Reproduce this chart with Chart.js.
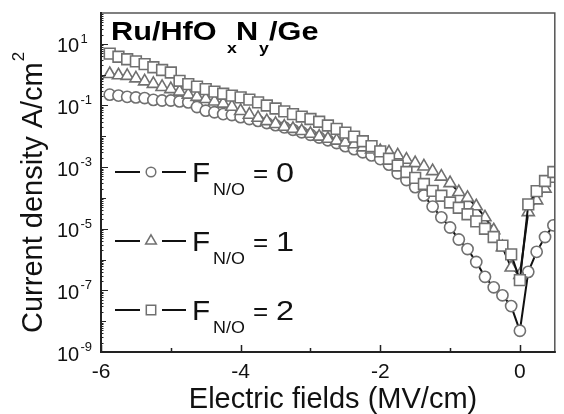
<!DOCTYPE html>
<html>
<head>
<meta charset="utf-8">
<script src="https://cdn.jsdelivr.net/npm/chart.js@4.4.1/dist/chart.umd.min.js"></script>
<style>
  html, body { margin: 0; padding: 0; background: #fff; }
  #chart { display: block; }
</style>
</head>
<body>
<canvas id="chart" width="564" height="414"></canvas>
<script>
// Electric field (MV/cm) of every measured point
const fields = [-5.875, -5.75, -5.625, -5.5, -5.375, -5.25, -5.125, -5, -4.875, -4.75,
  -4.625, -4.5, -4.375, -4.25, -4.125, -4, -3.875, -3.75, -3.625, -3.5,
  -3.375, -3.25, -3.125, -3, -2.875, -2.75, -2.625, -2.5, -2.375, -2.25,
  -2.125, -2, -1.875, -1.75, -1.625, -1.5, -1.375, -1.25, -1.125, -1,
  -0.875, -0.75, -0.625, -0.5, -0.375, -0.25, -0.125, 0, 0.12, 0.24, 0.36, 0.48];

// log10 of current density (A/cm^2)
const logJ_F0 = [-0.65, -0.68, -0.72, -0.74, -0.76, -0.82, -0.84, -0.84, -0.87, -0.90,
  -1.05, -1.17, -1.22, -1.28, -1.31, -1.38, -1.44, -1.50, -1.57, -1.64,
  -1.71, -1.79, -1.87, -1.95, -2.04, -2.13, -2.22, -2.32, -2.42, -2.52,
  -2.62, -2.74, -2.92, -3.20, -3.42, -3.65, -3.92, -4.28, -4.63, -4.96,
  -5.35, -5.66, -6.08, -6.56, -6.90, -7.16, -7.51, -8.31, -6.40, -5.75, -5.27, -4.89];

const logJ_F1 = [0.02, -0.02, -0.04, -0.12, -0.22, -0.30, -0.40, -0.47, -0.55, -0.65,
  -0.72, -0.79, -0.87, -0.94, -1.04, -1.18, -1.30, -1.40, -1.51, -1.60,
  -1.69, -1.76, -1.83, -1.92, -2.01, -2.08, -2.14, -2.20, -2.26, -2.36,
  -2.43, -2.48, -2.52, -2.62, -2.76, -2.87, -2.98, -3.13, -3.31, -3.52,
  -3.81, -4.00, -4.27, -4.63, -5.05, -5.60, -6.26, -6.50, -4.46, -4.08, -3.70, -3.38];

const logJ_F2 = [0.68, 0.58, 0.50, 0.43, 0.34, 0.24, 0.15, 0.07, -0.20, -0.31,
  -0.39, -0.47, -0.55, -0.62, -0.68, -0.74, -0.81, -0.90, -1.00, -1.10,
  -1.19, -1.28, -1.36, -1.44, -1.53, -1.65, -1.76, -1.88, -2.01, -2.16,
  -2.32, -2.49, -2.73, -2.95, -3.16, -3.35, -3.55, -3.77, -3.93, -4.15,
  -4.32, -4.53, -4.76, -5.00, -5.27, -5.55, -5.83, -6.67, -4.21, -3.78, -3.45, -3.16];

const seriesLabels = ['0', '1', '2'];
const xMajorTicks = [-6, -4, -2, 0];
const xMinorTicks = [-5, -3, -1];
const xTickLabels = ['-6', '-4', '-2', '0'];
const yLabelExps = [1, -1, -3, -5, -7, -9];

const FONT = '"Liberation Sans", Arial, Helvetica, sans-serif';
const MARKER_GRAY = '#707070';

function toPoints(logs) {
  return fields.map((f, i) => ({ x: f, y: Math.pow(10, logs[i]) }));
}

// little marker painter for the in-plot legend
function drawMarker(ctx, style, x, y) {
  ctx.save();
  ctx.strokeStyle = MARKER_GRAY;
  ctx.fillStyle = '#fff';
  ctx.lineWidth = 1.5;
  ctx.beginPath();
  if (style === 'circle') {
    ctx.arc(x, y, 4.8, 0, Math.PI * 2);
  } else if (style === 'triangle') {
    const r = 6.2;
    ctx.moveTo(x, y - r);
    ctx.lineTo(x + r * Math.sin(2 * Math.PI / 3), y - r * Math.cos(2 * Math.PI / 3));
    ctx.lineTo(x + r * Math.sin(4 * Math.PI / 3), y - r * Math.cos(4 * Math.PI / 3));
    ctx.closePath();
  } else {
    ctx.rect(x - 4.7, y - 4.7, 9.4, 9.4);
  }
  ctx.fill();
  ctx.stroke();
  ctx.restore();
}

function scaledText(ctx, text, x, y, font, sx) {
  ctx.save();
  ctx.translate(x, y);
  ctx.scale(sx, 1);
  ctx.font = font;
  ctx.fillText(text, 0, 0);
  ctx.restore();
}

const decorations = {
  id: 'decorations',
  afterDatasetsDraw(chart) {
    const ctx = chart.ctx;
    const a = chart.chartArea;
    const xs = chart.scales.x;
    const ys = chart.scales.y;
    ctx.save();

    // frame
    ctx.lineCap = 'square';
    ctx.strokeStyle = '#555';
    ctx.lineWidth = 1.5;
    ctx.beginPath();
    ctx.moveTo(a.left, a.top);
    ctx.lineTo(a.right, a.top);
    ctx.lineTo(a.right, a.bottom);
    ctx.stroke();
    ctx.strokeStyle = '#222';
    ctx.lineWidth = 2;
    ctx.beginPath();
    ctx.moveTo(a.left, a.top);
    ctx.lineTo(a.left, a.bottom);
    ctx.lineTo(a.right, a.bottom);
    ctx.stroke();

    // x ticks (inward)
    ctx.lineWidth = 1.5;
    ctx.lineCap = 'butt';
    ctx.beginPath();
    xMajorTicks.forEach(v => {
      const px = Math.round(xs.getPixelForValue(v)) + 0.5;
      ctx.moveTo(px, a.bottom);
      ctx.lineTo(px, a.bottom - 7);
    });
    xMinorTicks.forEach(v => {
      const px = Math.round(xs.getPixelForValue(v)) + 0.5;
      ctx.moveTo(px, a.bottom);
      ctx.lineTo(px, a.bottom - 4);
    });
    ctx.stroke();

    // y ticks (inward), log minors
    ctx.lineWidth = 1;
    ctx.beginPath();
    for (let e = -9; e <= 1; e++) {
      for (let m = 1; m <= 9; m++) {
        const v = m * Math.pow(10, e);
        if (v > ys.max * 1.0001) break;
        const py = Math.round(ys.getPixelForValue(v)) + 0.5;
        let len = 2.5;
        if (m === 1) len = yLabelExps.includes(e) ? 7 : 5;
        ctx.moveTo(a.left, py);
        ctx.lineTo(a.left + len, py);
      }
    }
    ctx.stroke();

    ctx.fillStyle = '#111';
    // y tick labels
    yLabelExps.forEach(e => {
      const py = ys.getPixelForValue(Math.pow(10, e));
      ctx.textAlign = 'left';
      ctx.textBaseline = 'alphabetic';
      ctx.font = '20px ' + FONT;
      ctx.fillText('10', 57, py + 8.5);
      ctx.font = '13px ' + FONT;
      ctx.fillText(String(e), 80.5, py - 1);
    });

    // x tick labels
    ctx.font = '21px ' + FONT;
    ctx.textAlign = 'center';
    xMajorTicks.forEach((v, i) => {
      ctx.fillText(xTickLabels[i], xs.getPixelForValue(v), 378);
    });

    // axis titles
    ctx.font = '29px ' + FONT;
    ctx.fillText('Electric fields (MV/cm)', 333, 408);

    ctx.save();
    ctx.translate(42, 333);
    ctx.rotate(-Math.PI / 2);
    ctx.textAlign = 'left';
    ctx.font = '29px ' + FONT;
    const yTitle = 'Current density A/cm';
    ctx.fillText(yTitle, 0, 0);
    const w = ctx.measureText(yTitle).width;
    ctx.font = '17px ' + FONT;
    ctx.fillText('2', w + 1, -18);
    ctx.restore();

    // title in the corner
    ctx.textAlign = 'left';
    ctx.fillStyle = '#000';
    const big = 'bold 26px ' + FONT;
    const sub = 'bold 15px ' + FONT;
    scaledText(ctx, 'Ru/HfO', 111, 39.5, big, 1.18);
    scaledText(ctx, 'x', 227, 53, sub, 1.18);
    scaledText(ctx, 'N', 236, 39.5, big, 1.18);
    scaledText(ctx, 'y', 259, 53, sub, 1.18);
    scaledText(ctx, '/Ge', 269, 39.5, big, 1.18);

    // legend rows
    const rowY = [172, 241, 310];
    const styles = ['circle', 'triangle', 'rect'];
    ctx.fillStyle = '#111';
    rowY.forEach((y, i) => {
      ctx.strokeStyle = '#111';
      ctx.lineWidth = 2;
      ctx.beginPath();
      ctx.moveTo(115, y);
      ctx.lineTo(140, y);
      ctx.moveTo(162, y);
      ctx.lineTo(186, y);
      ctx.stroke();
      drawMarker(ctx, styles[i], 151, y);
      scaledText(ctx, 'F', 192, y + 10, '27px ' + FONT, 1.1);
      scaledText(ctx, 'N/O', 213, y + 22.5, '16px ' + FONT, 1.12);
      scaledText(ctx, '=', 253, y + 10, '26px ' + FONT, 1.0);
      scaledText(ctx, seriesLabels[i], 276, y + 10, '27px ' + FONT, 1.2);
    });

    ctx.restore();
  }
};

const commonSet = {
  borderColor: '#111',
  borderWidth: 2,
  pointBorderColor: MARKER_GRAY,
  pointBackgroundColor: '#fff',
  pointBorderWidth: 1.6,
  tension: 0,
  fill: false
};

new Chart(document.getElementById('chart').getContext('2d'), {
  type: 'line',
  data: {
    datasets: [
      Object.assign({}, commonSet, {
        label: 'F_N/O = 0', data: toPoints(logJ_F0),
        pointStyle: 'circle', pointRadius: 5.6, order: 2
      }),
      Object.assign({}, commonSet, {
        label: 'F_N/O = 1', data: toPoints(logJ_F1),
        pointStyle: 'triangle', pointRadius: 7, order: 1
      }),
      Object.assign({}, commonSet, {
        label: 'F_N/O = 2', data: toPoints(logJ_F2),
        pointStyle: 'rect', pointRadius: 7.6, order: 0
      })
    ]
  },
  options: {
    responsive: false,
    animation: false,
    devicePixelRatio: 1,
    layout: { padding: { top: 13, right: 3, left: 0, bottom: 0 } },
    plugins: {
      legend: { display: false },
      tooltip: { enabled: false }
    },
    scales: {
      x: {
        type: 'linear', min: -6, max: 0.5,
        grid: { display: false }, border: { display: false },
        ticks: { display: false },
        afterFit(scale) { scale.height = 62; }
      },
      y: {
        type: 'logarithmic', min: 1e-9, max: 100,
        grid: { display: false }, border: { display: false },
        ticks: { display: false },
        afterFit(scale) { scale.width = 101; }
      }
    }
  },
  plugins: [decorations]
});
</script>
</body>
</html>
